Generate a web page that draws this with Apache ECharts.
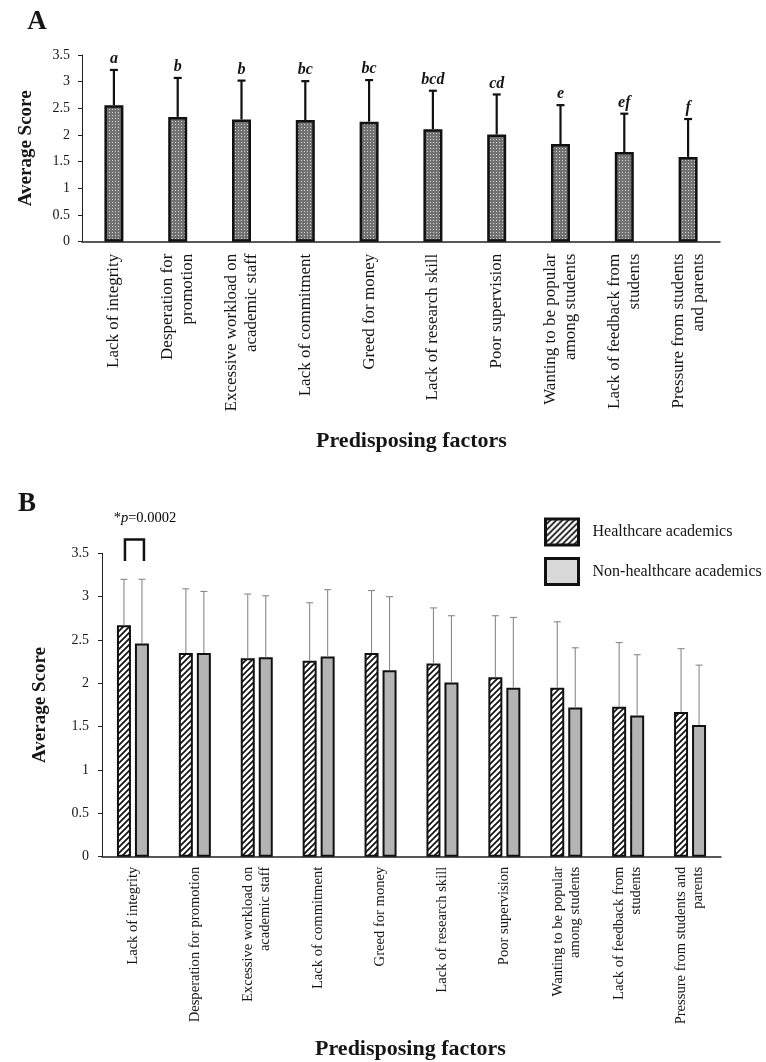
<!DOCTYPE html>
<html>
<head>
<meta charset="utf-8">
<script src="https://cdn.jsdelivr.net/npm/echarts@6/dist/echarts.min.js"></script>
<style>
html,body{margin:0;padding:0;background:#fff;}
#chart{width:766px;height:1062px;}
</style>
</head>
<body>
<div id="chart"></div>
<script>
// ---------- DATA ----------
const categoriesA = [
  'Lack of integrity',
  'Desperation for\npromotion',
  'Excessive workload on\nacademic staff',
  'Lack of commitment',
  'Greed for money',
  'Lack of research skill',
  'Poor supervision',
  'Wanting to be popular\namong students',
  'Lack of feedback from\nstudents',
  'Pressure from students\nand parents'
];
const categoriesB = [
  'Lack of integrity',
  'Desperation for promotion',
  'Excessive workload on\nacademic staff',
  'Lack of commitment',
  'Greed for money',
  'Lack of research skill',
  'Poor supervision',
  'Wanting to be popular\namong students',
  'Lack of feedback from\nstudents',
  'Pressure from students and\nparents'
];
const meanA   = [2.56, 2.34, 2.29, 2.28, 2.25, 2.11, 2.01, 1.83, 1.68, 1.59];
const upperA  = [3.22, 3.07, 3.02, 3.01, 3.03, 2.83, 2.76, 2.56, 2.40, 2.30];
const lettersA = ['a', 'b', 'b', 'bc', 'bc', 'bcd', 'cd', 'e', 'ef', 'f'];

const healthMean  = [2.67, 2.35, 2.29, 2.26, 2.35, 2.23, 2.07, 1.95, 1.73, 1.67];
const healthUpper = [3.20, 3.09, 3.03, 2.93, 3.07, 2.87, 2.78, 2.71, 2.47, 2.40];
const nonMean     = [2.46, 2.35, 2.30, 2.31, 2.15, 2.01, 1.95, 1.72, 1.63, 1.52];
const nonUpper    = [3.20, 3.06, 3.01, 3.08, 3.00, 2.78, 2.76, 2.41, 2.33, 2.21];

const seriesNames = ['Healthcare academics', 'Non-healthcare academics'];
const yMin = 0, yMax = 3.5, yStep = 0.5;
// significance bracket (group index, bracket bottom, bracket top, text level)
const sigBracket = [[0, 3.41, 3.66, 3.90]];
const sigText = 'p=0.0002';

// ---------- STYLE HELPERS ----------
const FONT = '"Liberation Serif", "Times New Roman", serif';
const INK = '#151515';

function dotPattern() {
  const c = document.createElement('canvas');
  c.width = 3; c.height = 3;
  const g = c.getContext('2d');
  g.fillStyle = '#727272'; g.fillRect(0, 0, 3, 3);
  g.fillStyle = '#d2d2d2'; g.fillRect(1, 1, 1, 1);
  return c;
}
function hatchPattern() {
  const s = 6;
  const c = document.createElement('canvas');
  c.width = s; c.height = s;
  const g = c.getContext('2d');
  g.fillStyle = '#ffffff'; g.fillRect(0, 0, s, s);
  g.strokeStyle = '#111'; g.lineWidth = 1.7;
  g.beginPath();
  g.moveTo(-1, s + 1); g.lineTo(s + 1, -1);
  g.moveTo(-1, 1); g.lineTo(1, -1);
  g.moveTo(s - 1, s + 1); g.lineTo(s + 1, s - 1);
  g.stroke();
  return c;
}
const dotFill = { image: dotPattern(), repeat: 'repeat' };
const hatchFill = { image: hatchPattern(), repeat: 'repeat' };

const BAR_W_B = 14, BAR_GAP_B = 4;
const OFFSET_B = (BAR_W_B + BAR_GAP_B) / 2;

function errorSeries(xi, means, uppers, dx, color, lw, capHalf, labels) {
  return {
    type: 'custom',
    xAxisIndex: xi, yAxisIndex: xi,
    z: 5,
    clip: false,
    silent: true,
    encode: { x: 0, y: [1, 2] },
    data: means.map((m, i) => [i, m, uppers[i]]),
    renderItem: function (params, api) {
      const i = api.value(0);
      const lo = api.coord([i, api.value(1)]);
      const hi = api.coord([i, api.value(2)]);
      const x = lo[0] + dx;
      const children = [
        { type: 'line', shape: { x1: x, y1: lo[1], x2: x, y2: hi[1] }, style: { stroke: color, lineWidth: lw } },
        { type: 'line', shape: { x1: x - capHalf, y1: hi[1], x2: x + capHalf, y2: hi[1] }, style: { stroke: color, lineWidth: lw } }
      ];
      if (labels) {
        children.push({
          type: 'text',
          style: {
            text: labels[params.dataIndex], x: x, y: hi[1] - 3,
            font: 'italic bold 16px ' + FONT, fill: INK,
            align: 'center', verticalAlign: 'bottom'
          }
        });
      }
      return { type: 'group', children: children };
    }
  };
}

const yAxisCommon = (gap, margin) => ({
  type: 'value', min: yMin, max: yMax, interval: yStep,
  name: 'Average Score', nameLocation: 'middle', nameGap: gap,
  nameTextStyle: { fontFamily: FONT, fontWeight: 'bold', fontSize: 19, color: INK },
  axisLine: { show: true, lineStyle: { color: '#222', width: 1 } },
  axisTick: { show: true, length: 4, lineStyle: { color: '#222' } },
  splitLine: { show: false },
  axisLabel: { fontFamily: FONT, fontSize: 14, color: INK, margin: margin }
});

const chart = echarts.init(document.getElementById('chart'), null, { renderer: 'canvas' });

const option = {
  animation: false,
  backgroundColor: '#ffffff',
  grid: [
    { left: 82, width: 638, top: 55, height: 186.7 },
    { left: 102, width: 619, top: 553.3, height: 303.4 }
  ],
  xAxis: [
    {
      gridIndex: 0, type: 'category', data: categoriesA,
      axisLine: { lineStyle: { color: '#222', width: 1.5 } },
      axisTick: { show: false },
      axisLabel: { interval: 0, rotate: 90, fontFamily: FONT, fontSize: 17, lineHeight: 20, color: INK, margin: 12 }
    },
    {
      gridIndex: 1, type: 'category', data: categoriesB,
      axisLine: { lineStyle: { color: '#222', width: 1.5 } },
      axisTick: { show: false },
      axisLabel: { interval: 0, rotate: 90, fontFamily: FONT, fontSize: 14.6, lineHeight: 17, color: INK, margin: 10 }
    }
  ],
  yAxis: [
    Object.assign({ gridIndex: 0 }, yAxisCommon(46, 12)),
    Object.assign({ gridIndex: 1 }, yAxisCommon(52, 13))
  ],
  legend: {
    orient: 'vertical', left: 539, top: 512.5,
    itemWidth: 33, itemHeight: 26, itemGap: 10.5, icon: 'rect',
    textStyle: { fontFamily: FONT, fontSize: 16, color: INK, padding: [0, 0, 0, 9] },
    data: [
      { name: seriesNames[0], itemStyle: { color: hatchFill, borderColor: '#111', borderWidth: 3 } },
      { name: seriesNames[1], itemStyle: { color: '#d9d9d9', borderColor: '#111', borderWidth: 3 } }
    ]
  },
  graphic: [
    { type: 'text', x: 37, y: 22, style: { text: 'A', font: 'bold 27px ' + FONT, fill: INK, align: 'center', verticalAlign: 'middle' } },
    { type: 'text', x: 27, y: 504, style: { text: 'B', font: 'bold 27px ' + FONT, fill: INK, align: 'center', verticalAlign: 'middle' } },
    { type: 'text', x: 411.5, y: 441, style: { text: 'Predisposing factors', font: 'bold 22px ' + FONT, fill: INK, align: 'center', verticalAlign: 'middle' } },
    { type: 'text', x: 410.5, y: 1049, style: { text: 'Predisposing factors', font: 'bold 22px ' + FONT, fill: INK, align: 'center', verticalAlign: 'middle' } }
  ],
  series: [
    {
      type: 'bar', name: 'Average score', xAxisIndex: 0, yAxisIndex: 0,
      data: meanA, barWidth: 19,
      itemStyle: { color: dotFill, borderColor: '#111', borderWidth: 2.5 }
    },
    errorSeries(0, meanA, upperA, 0, '#111', 2.2, 4, lettersA),
    {
      type: 'bar', name: seriesNames[0], xAxisIndex: 1, yAxisIndex: 1,
      data: healthMean, barWidth: BAR_W_B, barGap: (BAR_GAP_B / BAR_W_B * 100) + '%',
      itemStyle: { color: hatchFill, borderColor: '#111', borderWidth: 2 }
    },
    {
      type: 'bar', name: seriesNames[1], xAxisIndex: 1, yAxisIndex: 1,
      data: nonMean, barWidth: BAR_W_B, barGap: (BAR_GAP_B / BAR_W_B * 100) + '%',
      itemStyle: { color: '#b4b4b4', borderColor: '#111', borderWidth: 2 }
    },
    errorSeries(1, healthMean, healthUpper, -OFFSET_B, '#8a8a8a', 1.1, 3.5, null),
    errorSeries(1, nonMean, nonUpper, OFFSET_B, '#8a8a8a', 1.1, 3.5, null),
    {
      type: 'custom', xAxisIndex: 1, yAxisIndex: 1, clip: false, silent: true, z: 6,
      encode: { x: 0, y: [1, 2] },
      data: sigBracket,
      renderItem: function (params, api) {
        const i = api.value(0);
        const bot = api.coord([i, api.value(1)]);
        const top = api.coord([i, api.value(2)]);
        const txt = api.coord([i, api.value(3)]);
        const xl = bot[0] - OFFSET_B + 1, xr = bot[0] + OFFSET_B + 2;
        return {
          type: 'group',
          children: [
            { type: 'polyline', shape: { points: [[xl, bot[1]], [xl, top[1]], [xr, top[1]], [xr, bot[1]]] },
              style: { stroke: '#111', lineWidth: 2.5, fill: null } },
            { type: 'text', style: {
                text: '{n|*}{i|' + sigText.charAt(0) + '}{n|' + sigText.slice(1) + '}',
                x: bot[0] + 12, y: txt[1], align: 'center', verticalAlign: 'middle',
                rich: {
                  n: { fontFamily: FONT, fontSize: 14.5, color: '#222' },
                  i: { fontFamily: FONT, fontSize: 14.5, fontStyle: 'italic', color: '#222' }
                }
              } }
          ]
        };
      }
    }
  ]
};
chart.setOption(option);
</script>
</body>
</html>
